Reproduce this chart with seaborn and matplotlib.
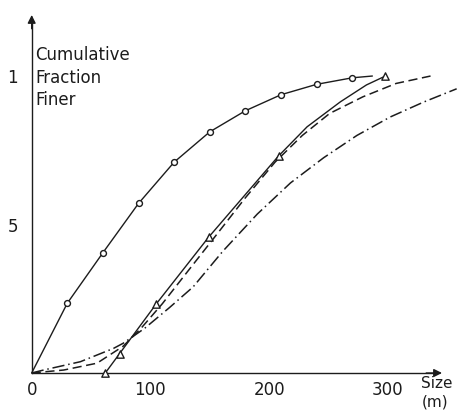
import matplotlib
matplotlib.use("Agg")
import matplotlib.pyplot as plt
import seaborn as sns

## data (size in m, cumulative fraction finer)
circle_size = [0, 30, 60, 90, 120, 150, 180, 210, 240, 270, 287]
circle_frac = [0, 0.235, 0.405, 0.571, 0.710, 0.812, 0.883, 0.937, 0.972, 0.994, 1.0]
circle_marked = [False, True, True, True, True, True, True, True, True, True, False]

tri_size = [62, 74, 105, 149, 208, 232, 260, 282, 298]
tri_frac = [0, 0.065, 0.233, 0.457, 0.731, 0.829, 0.913, 0.97, 1.0]
tri_marked = [True, True, True, True, True, False, False, False, True]

dash_size = [0, 27, 55, 77, 92, 110, 130, 154, 180, 205, 228, 251, 279, 307, 336]
dash_frac = [0, 0.01, 0.033, 0.09, 0.15, 0.233, 0.335, 0.457, 0.59, 0.71, 0.80, 0.874,
             0.93, 0.975, 1.0]

dashdot_size = [0, 10, 41, 69, 77, 95, 116, 136, 161, 190, 218, 246, 274, 302, 330, 358]
dashdot_frac = [0, 0.01, 0.038, 0.083, 0.1, 0.15, 0.22, 0.29, 0.41, 0.535, 0.64, 0.725,
                0.80, 0.862, 0.912, 0.957]

x_ticks = [0, 100, 200, 300]
x_labels = ["0", "100", "200", "300"]
y_ticks = [0.5, 1.0]
y_labels = ["5", "1"]

ink = "#1c1c1c"

sns.set_style("white")
plt.rcParams['font.family'] = ['DejaVu Sans']

fig = plt.figure(figsize=(4.62, 4.13), dpi=100)
ax = fig.add_axes([0, 0, 1, 1])
ax.set_xlim(-26.7, 362.5)
ax.set_ylim(-0.1347, 1.256)

# curves
sns.lineplot(x=circle_size, y=circle_frac, ax=ax, color=ink, lw=1.0)
sns.scatterplot(x=[s for s, m in zip(circle_size, circle_marked) if m],
                y=[f for f, m in zip(circle_frac, circle_marked) if m],
                ax=ax, marker="o", s=18, color="white", edgecolor=ink, linewidth=1.0, zorder=4)

sns.lineplot(x=tri_size, y=tri_frac, ax=ax, color=ink, lw=1.0)
sns.scatterplot(x=[s for s, m in zip(tri_size, tri_marked) if m],
                y=[f for f, m in zip(tri_frac, tri_marked) if m],
                ax=ax, marker="^", s=28, color="white", edgecolor=ink, linewidth=1.0, zorder=4)

sns.lineplot(x=dash_size, y=dash_frac, ax=ax, color=ink, lw=1.1, linestyle=(0, (6, 3)))
sns.lineplot(x=dashdot_size, y=dashdot_frac, ax=ax, color=ink, lw=1.1,
             linestyle=(0, (8, 2.5, 1, 2.5)))

# axes drawn as arrows from the origin
for side in ["top", "right"]:
    ax.spines[side].set_visible(False)
ax.spines["left"].set_position(("data", 0))
ax.spines["bottom"].set_position(("data", 0))
ax.spines["left"].set_bounds(0, 1.18)
ax.spines["bottom"].set_bounds(0, 340)
for side in ["left", "bottom"]:
    ax.spines[side].set_color(ink)
    ax.spines[side].set_linewidth(1.0)
ax.annotate("", xy=(348, 0), xytext=(330, 0),
            arrowprops=dict(arrowstyle="-|>", color=ink, lw=1.0, mutation_scale=12))
ax.annotate("", xy=(0, 1.215), xytext=(0, 1.15),
            arrowprops=dict(arrowstyle="-|>", color=ink, lw=1.0, mutation_scale=12))

ax.set_xticks(x_ticks)
ax.set_xticklabels(x_labels)
ax.set_yticks(y_ticks)
ax.set_yticklabels(y_labels)
ax.tick_params(axis="x", direction="inout", length=6, width=0.8, pad=3,
               labelsize=12, colors=ink)
ax.tick_params(axis="y", direction="out", length=4, width=0.8, pad=6,
               labelsize=12, colors=ink)
ax.set_xlabel("")
ax.set_ylabel("")
ax.grid(False)

ax.text(2.8, 1.10, "Cumulative\nFraction\nFiner", ha="left", va="top",
        fontsize=12, color=ink, linespacing=1.3)
ax.text(328, -0.010, "Size", ha="left", va="top", fontsize=11, color=ink)
ax.text(329, -0.072, "(m)", ha="left", va="top", fontsize=11, color=ink)

fig.savefig("out.png", dpi=100, facecolor="white")
